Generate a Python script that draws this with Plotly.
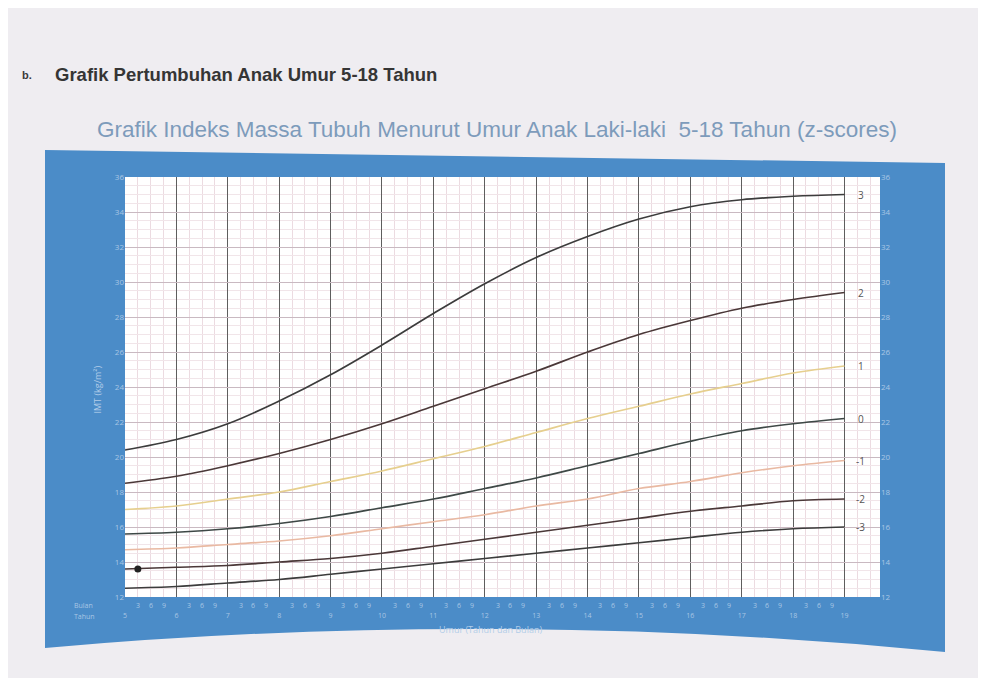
import plotly.graph_objects as go

# ---------------- data ----------------
age = [5, 6, 7, 8, 9, 10, 11, 12, 13, 14, 15, 16, 17, 18, 19]

sd3 = [20.4, 21.0, 21.9, 23.2, 24.7, 26.4, 28.2, 29.9, 31.4, 32.6, 33.6, 34.3, 34.7, 34.9, 35.0]
sd2 = [18.5, 18.9, 19.5, 20.2, 21.0, 21.9, 22.9, 23.9, 24.9, 26.0, 27.0, 27.8, 28.5, 29.0, 29.4]
sd1 = [17.0, 17.2, 17.6, 18.0, 18.6, 19.2, 19.9, 20.6, 21.4, 22.2, 22.9, 23.6, 24.2, 24.8, 25.2]
sd0 = [15.6, 15.7, 15.9, 16.2, 16.6, 17.1, 17.6, 18.2, 18.8, 19.5, 20.2, 20.9, 21.5, 21.9, 22.2]
sd1n = [14.7, 14.8, 15.0, 15.2, 15.5, 15.9, 16.3, 16.7, 17.2, 17.6, 18.2, 18.6, 19.1, 19.5, 19.8]
sd2n = [13.6, 13.7, 13.8, 14.0, 14.2, 14.5, 14.9, 15.3, 15.7, 16.1, 16.5, 16.9, 17.2, 17.5, 17.6]
sd3n = [12.5, 12.6, 12.8, 13.0, 13.3, 13.6, 13.9, 14.2, 14.5, 14.8, 15.1, 15.4, 15.7, 15.9, 16.0]

curve_labels = ["3", "2", "1", "0", "-1", "-2", "-3"]
curve_colors = ["#3c3c3c", "#4a3838", "#e6cf8e", "#3e4846", "#e9b9a2", "#4a3838", "#3c3c3c"]
curves = [sd3, sd2, sd1, sd0, sd1n, sd2n, sd3n]

child_age = [5.25]
child_bmi = [13.6]

y_ticks = [12, 14, 16, 18, 20, 22, 24, 26, 28, 30, 32, 34, 36]
month_ticks = [3, 6, 9]

title_main = "Grafik Pertumbuhan Anak Umur 5-18 Tahun"
subtitle = "Grafik Indeks Massa Tubuh Menurut Umur Anak Laki-laki  5-18 Tahun (z-scores)"

# ---------------- figure ----------------
# page body adds an 8px margin; layout is designed in screen pixels
OFF = 8
W, H = 970, 670
L, T = 125 - OFF, 177 - OFF
pw, ph = 755, 420
R, B = W - L - pw, H - T - ph


def px(x):
    return (x - OFF - L) / pw


def py(y):
    return (T + ph + OFF - y) / ph


fig = go.Figure()

for vals, lab, col in zip(curves, curve_labels, curve_colors):
    fig.add_trace(go.Scatter(x=age, y=vals, mode="lines", line=dict(color=col, width=1.7, shape="spline"),
                             showlegend=False, hoverinfo="skip"))

fig.add_trace(go.Scatter(x=child_age, y=child_bmi, mode="markers",
                         marker=dict(color="#222", size=7), showlegend=False))
fig.add_trace(go.Scatter(x=[None], y=[None], yaxis="y2", showlegend=False))

blue = "#4b8cc8"
shapes = [
    dict(type="path", xref="paper", yref="paper", layer="below", line=dict(width=0), fillcolor=blue,
         path=f"M {px(45)},{py(150)} L {px(945)},{py(163)} L {px(945)},{py(652)} "
              f"Q {px(495)},{py(608)} {px(45)},{py(648)} Z"),
    dict(type="rect", xref="paper", yref="paper", layer="below", x0=0, x1=1, y0=0, y1=1,
         line=dict(width=0), fillcolor="white"),
]

lab_col = "#a9c6e4"
ann = []
# curve end labels
for vals, lab in zip(curves, curve_labels):
    ann.append(dict(x=age[-1] + 0.32, y=vals[-1], xref="x", yref="y", text=lab, showarrow=False,
                    font=dict(size=10, color="#555"), xanchor="center", yanchor="middle"))
# month labels
for a in age[:-1]:
    for m in month_ticks:
        ann.append(dict(x=a + m / 12, y=py(605), xref="x", yref="paper", text=str(m), showarrow=False,
                        font=dict(size=7, color=lab_col), yanchor="middle"))
ann += [
    dict(x=px(72), y=py(605), xref="paper", yref="paper", text="Bulan", showarrow=False,
         font=dict(size=7, color=lab_col), yanchor="middle"),
    dict(x=px(72), y=py(616), xref="paper", yref="paper", text="Tahun", showarrow=False,
         font=dict(size=7, color=lab_col), yanchor="middle"),
    dict(x=px(490), y=py(629), xref="paper", yref="paper", text="Umur (Tahun dan Bulan)", showarrow=False,
         font=dict(size=9, color="#b3cde8"), yanchor="middle"),
    dict(x=px(88), y=py(390), xref="paper", yref="paper", text="IMT (kg/m²)", textangle=-90, showarrow=False,
         font=dict(size=9, color="#b3cde8"), yanchor="middle"),
    dict(x=px(20), y=py(75), xref="paper", yref="paper", text="<b>b.</b>", showarrow=False, xanchor="left",
         yanchor="middle", font=dict(size=11, color="#3a3a3a", family="Liberation Sans")),
    dict(x=px(53), y=py(74), xref="paper", yref="paper", text=f"<b>{title_main}</b>", showarrow=False,
         xanchor="left", yanchor="middle", font=dict(size=18.5, color="#353535", family="Liberation Sans")),
    dict(x=px(497), y=py(130), xref="paper", yref="paper", text=subtitle, showarrow=False,
         yanchor="middle", font=dict(size=22.5, color="#7d9bbb", family="Liberation Sans")),
]

fig.update_layout(
    width=W, height=H, autosize=False,
    margin=dict(l=L, r=R, t=T, b=B),
    paper_bgcolor="#efedf1", plot_bgcolor="white",
    shapes=shapes, annotations=ann,
    xaxis=dict(range=[5, 19.69], tickvals=age, ticktext=[str(a) for a in age], showgrid=True,
               gridcolor="#5e5e5e", gridwidth=1.2, zeroline=False, showline=False,
               ticks="", ticklabelstandoff=13, tickfont=dict(size=7, color=lab_col),
               minor=dict(dtick=0.25, showgrid=True, gridcolor="#ecdbe1", gridwidth=1)),
    yaxis=dict(range=[12, 36], tickvals=y_ticks, showgrid=True, gridcolor="#c9b9c1", gridwidth=1,
               zeroline=False, showline=False, ticks="", tickfont=dict(size=8, color=lab_col),
               minor=dict(dtick=0.5, showgrid=True, gridcolor="#f1e5e9", gridwidth=1)),
    yaxis2=dict(range=[12, 36], tickvals=y_ticks, overlaying="y", side="right", showgrid=False,
                zeroline=False, showline=False, ticks="", tickfont=dict(size=8, color=lab_col)),
)

fig.write_html("out.html")
